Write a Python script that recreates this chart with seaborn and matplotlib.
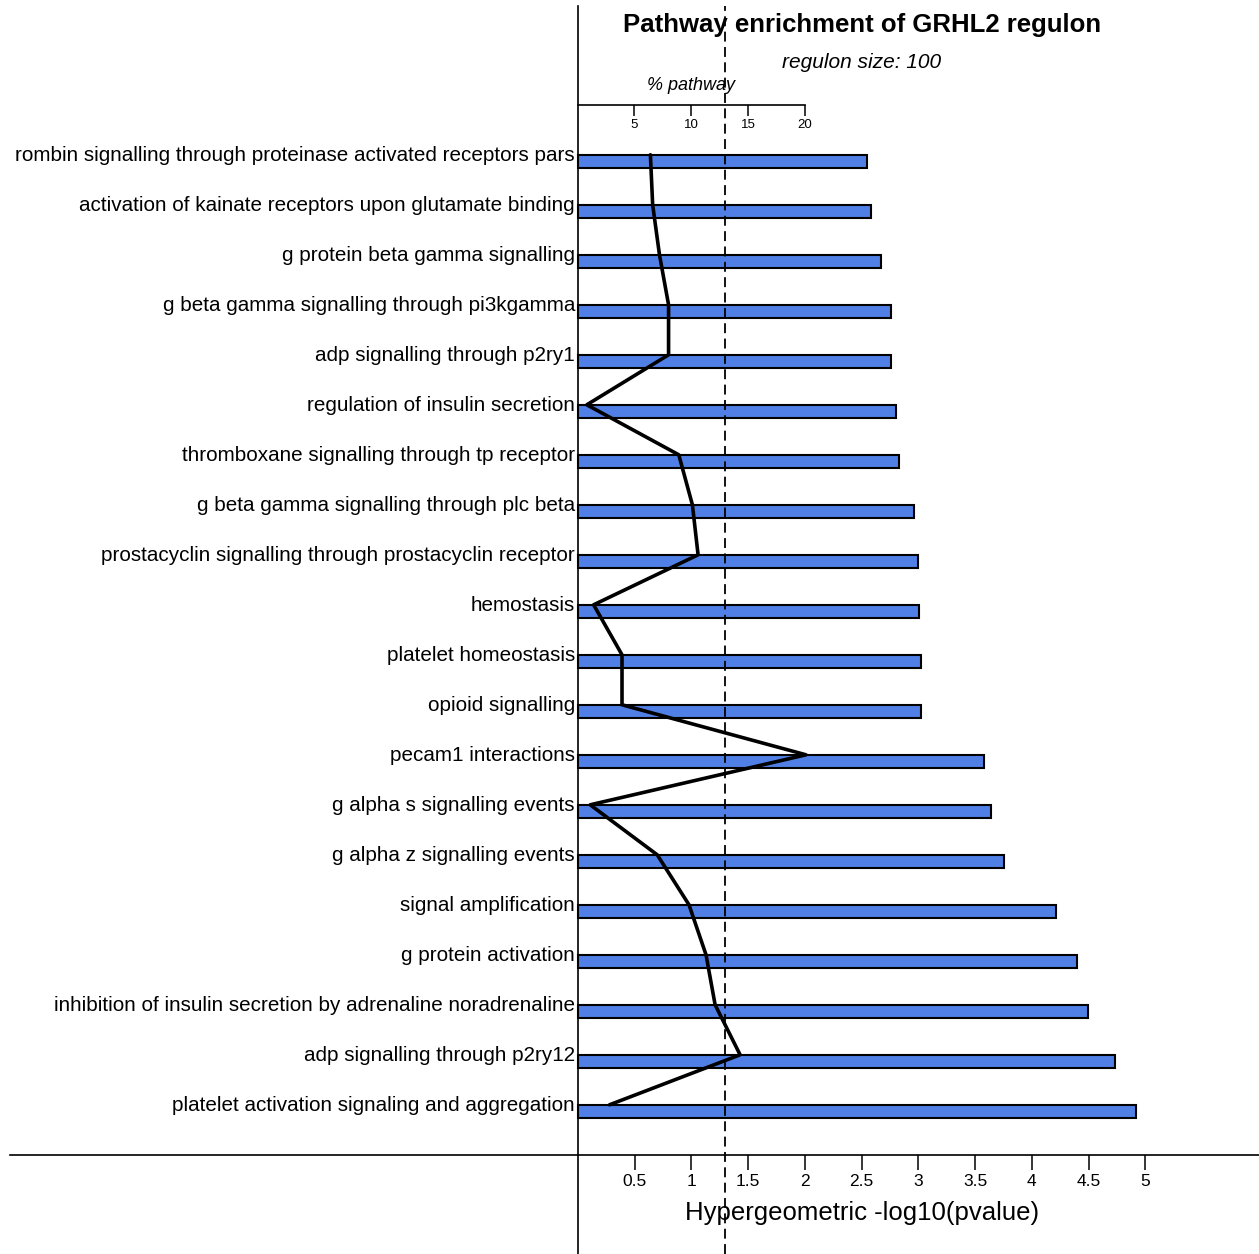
import numpy as np
import pandas as pd
import seaborn as sns
from matplotlib import pyplot as plt

# pathways, top to bottom as in the chart
pathways = [
    "rombin signalling through proteinase activated receptors pars",
    "activation of kainate receptors upon glutamate binding",
    "g protein beta gamma signalling",
    "g beta gamma signalling through pi3kgamma",
    "adp signalling through p2ry1",
    "regulation of insulin secretion",
    "thromboxane signalling through tp receptor",
    "g beta gamma signalling through plc beta",
    "prostacyclin signalling through prostacyclin receptor",
    "hemostasis",
    "platelet homeostasis",
    "opioid signalling",
    "pecam1 interactions",
    "g alpha s signalling events",
    "g alpha z signalling events",
    "signal amplification",
    "g protein activation",
    "inhibition of insulin secretion by adrenaline noradrenaline",
    "adp signalling through p2ry12",
    "platelet activation signaling and aggregation",
]
neglog_p = [2.55, 2.58, 2.67, 2.76, 2.76, 2.80, 2.83, 2.96, 3.00, 3.01,
            3.02, 3.02, 3.58, 3.64, 3.75, 4.21, 4.40, 4.49, 4.73, 4.92]
pct_pathway = [6.4, 6.6, 7.2, 8.0, 8.0, 0.8, 8.9, 10.1, 10.6, 1.4,
               3.9, 3.9, 20.1, 1.1, 7.0, 9.8, 11.3, 12.1, 14.3, 2.8]
pct_ticks = [5, 10, 15, 20]
x_ticks = [0.5, 1, 1.5, 2, 2.5, 3, 3.5, 4, 4.5, 5]
x_ticklabels = ["0.5", "1", "1.5", "2", "2.5", "3", "3.5", "4", "4.5", "5"]
regulon = "GRHL2"
regulon_size = 100

df = pd.DataFrame({"pathway": pathways, "p": neglog_p, "pct": pct_pathway})
df["pos"] = np.arange(len(df))

sns.set_style("white")
plt.rcParams["font.family"] = ["Liberation Sans", "DejaVu Sans"]
plt.rcParams["text.color"] = "black"
plt.rcParams["xtick.color"] = "black"
plt.rcParams["ytick.color"] = "black"
plt.rcParams["axes.labelcolor"] = "black"

fig = plt.figure(figsize=(12.59, 12.54), dpi=100)
ax = fig.add_axes([10 / 1259, 0, 1249 / 1259, 1248 / 1254])

sns.barplot(data=df, x="p", y="pathway", orient="h", color="#5080e6",
            saturation=1, width=0.25, edgecolor="black", linewidth=1.5, ax=ax)

# % pathway line, drawn on the -log10 scale (20 % <-> 2.0)
df["pct_scaled"] = df["pct"] / 10
df["line_y"] = df["pos"] - 0.13
sns.lineplot(data=df, x="pct_scaled", y="line_y", orient="y", sort=False,
             estimator=None, color="black", linewidth=2.6, ax=ax)

ax.axvline(-np.log10(0.05), color="black", linestyle=(0, (5.5, 3)), linewidth=1.3)

ax.set_xlim(-5, 6)
ax.set_ylim(21.854, -3.106)
ax.spines["left"].set_position(("data", 0))
ax.spines["bottom"].set_position(("data", 19.874))
ax.spines["top"].set_visible(False)
ax.spines["right"].set_visible(False)
for s in ["left", "bottom"]:
    ax.spines[s].set_linewidth(1.2)
    ax.spines[s].set_color("black")

ax.set_xticks(x_ticks)
ax.set_xticklabels(x_ticklabels, fontsize=12.5)
ax.tick_params(axis="x", direction="out", length=11, width=1.1, pad=3, bottom=True)
ax.set_yticks(df["pos"] - 0.16)
ax.set_yticklabels(pathways, fontsize=14.9)
ax.tick_params(axis="y", length=0, pad=2)
ax.set_xlabel("")
ax.set_ylabel("")

# small axis for % pathway
sec = ax.secondary_xaxis(0.9203, functions=(lambda x: x * 10, lambda x: x / 10))
sec.set_alignment("bottom")
sec.set_xticks(pct_ticks)
sec.set_xticklabels([str(t) for t in pct_ticks], fontsize=9.5)
sec.tick_params(axis="x", direction="out", length=8, width=1.1, pad=1.5)
sec.spines["bottom"].set_bounds(0, 20)
sec.spines["bottom"].set_linewidth(1.2)
sec.spines["bottom"].set_color("black")

ax.text(1.0, -1.52, "% pathway", fontsize=13, style="italic", ha="center", va="center")
ax.text(2.5, -2.73, f"Pathway enrichment of {regulon} regulon", fontsize=18.5,
        fontweight="bold", ha="center", va="center")
ax.text(2.5, -1.98, f"regulon size: {regulon_size}", fontsize=15, style="italic",
        ha="center", va="center")
ax.text(2.5, 21.04, "Hypergeometric -log10(pvalue)", fontsize=18.5,
        ha="center", va="center")

fig.savefig("out.png", dpi=100)
